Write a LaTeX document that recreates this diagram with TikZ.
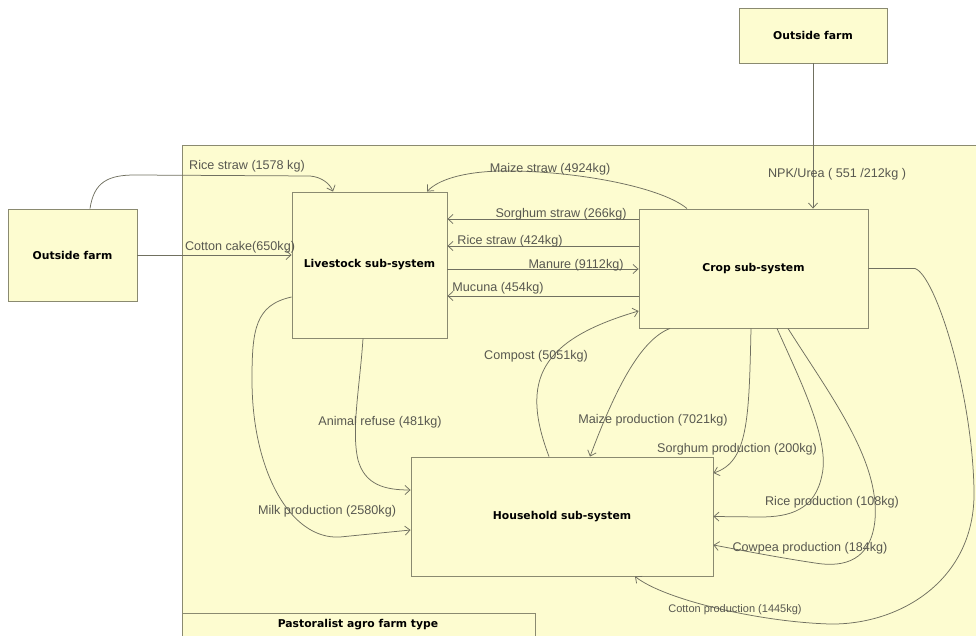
\documentclass[tikz,border=0pt]{standalone}
\usepackage{fontspec}
\setmainfont{Liberation Sans}
\newfontfamily\headfont{DejaVu Sans}
\usetikzlibrary{arrows.meta}
\definecolor{boxfill}{RGB}{253,252,208}
\definecolor{boxline}{RGB}{138,138,112}
\definecolor{flowline}{RGB}{112,112,96}
\definecolor{labelgray}{RGB}{88,88,80}
\begin{document}
\begin{tikzpicture}[x=1pt,y=-1pt,
  sysbox/.style={draw=boxline,fill=boxfill,line width=0.9pt,inner sep=0pt,
    font=\headfont\bfseries\fontsize{10.8}{12}\selectfont},
  flow/.style={draw=flowline,line width=0.75pt,
    -{Straight Barb[length=5pt,width=9pt,line width=0.75pt]}},
  flowlabel/.style={text=labelgray,inner sep=0pt,
    font=\fontsize{12.6}{14}\selectfont},
  smalllabel/.style={flowlabel,font=\fontsize{11}{13}\selectfont}]
\useasboundingbox (0,0) rectangle (976,636);
\begin{scope}
\clip (0,0) rectangle (976,636);
% farm boundary
\path[draw=boxline,fill=boxfill,line width=0.9pt] (182,145) rectangle (990,650);
% sub-systems and outside sources
\node[sysbox,minimum width=148,minimum height=55] (topout) at (813,35.5) {Outside farm};
\node[sysbox,minimum width=129,minimum height=92] (leftout) at (72.5,255) {Outside farm};
\node[sysbox,minimum width=155,minimum height=146] (live) at (369.5,265) {Livestock sub-system};
\node[sysbox,minimum width=229,minimum height=119] (crop) at (753.5,268.5) {Crop sub-system};
\node[sysbox,minimum width=302,minimum height=119] (house) at (562,516.5) {Household sub-system};
\node[sysbox,minimum width=353,minimum height=37,anchor=north west] (ftype) at (182,613) {};
\node[font=\headfont\bfseries\fontsize{10.8}{12}\selectfont,inner sep=0pt] (ftypelabel) at (358,624.5) {Pastoralist agro farm type};

% flows from outside the farm
\draw[flow] ([xshift=17.5pt]leftout.north) .. controls (94,182) and (108,175) .. (135,175)
  -- (310,176) .. controls (322,177) and (330,184) .. ([xshift=-36.5pt]live.north);
\draw[flow] (leftout.east) -- (live.west |- leftout.east);
\draw[flow] (topout.south) -- (topout.south |- crop.north);

% exchanges between crop and livestock
\draw[flow] ([xshift=-66.5pt]crop.north) .. controls (660,186) and (570,170) .. (500,171)
  .. controls (462,172) and (438,180) .. ([xshift=57.5pt]live.north);
\draw[flow] ([yshift=49.5pt]crop.west) -- ([yshift=46pt]live.east);
\draw[flow] ([yshift=22.5pt]crop.west) -- ([yshift=19pt]live.east);
\draw[flow] ([yshift=-4pt]live.east) -- ([yshift=-0.5pt]crop.west);
\draw[flow] ([yshift=-27.5pt]crop.west) -- ([yshift=-31pt]live.east);

% livestock and household
\draw[flow] ([xshift=-6.5pt]live.south) .. controls (360,385) and (351,430) .. (358,460)
  .. controls (365,485) and (385,490) .. ([yshift=26.5pt]house.west);
\draw[flow] ([yshift=-32pt]live.west) .. controls (255,305) and (252,330) .. (252,380)
  .. controls (252,470) and (290,540) .. (340,537) -- ([yshift=-13.5pt]house.west);

% household and crop
\draw[flow] ([xshift=-13pt]house.north) .. controls (520,380) and (540,340) .. ([yshift=-42.5pt]crop.west);
\draw[flow] ([xshift=-83.5pt]crop.south) .. controls (640,340) and (615,390) .. ([xshift=28pt]house.north);
\draw[flow] ([xshift=-2.5pt]crop.south) .. controls (749,420) and (748,462) .. ([yshift=43.5pt]house.east);
\draw[flow] ([xshift=23.5pt]crop.south) .. controls (800,380) and (830,440) .. (822,475)
  .. controls (815,510) and (790,517) .. (760,517) -- (house.east);
\draw[flow] ([xshift=34.5pt]crop.south) .. controls (830,395) and (880,460) .. (875,520)
  .. controls (871,560) and (845,568) .. (815,563)
  .. controls (775,557) and (740,550) .. ([yshift=-28.5pt]house.east);
\draw[flow] (crop.east) -- (915,268.5) .. controls (935,275) and (972,390) .. (974,490)
  .. controls (976,580) and (900,625) .. (830,624) .. controls (760,622) and (665,600) ..
  ([xshift=73pt]house.south);

% flow labels
\node[flowlabel] (l1) at (247,166) {Rice straw (1578 kg)};
\node[flowlabel] (l2) at (240,247) {Cotton cake(650kg)};
\node[flowlabel] (l3) at (837,174) {NPK/Urea ( 551 /212kg )};
\node[flowlabel] (l4) at (550,169) {Maize straw (4924kg)};
\node[flowlabel] (l5) at (561,214) {Sorghum straw (266kg)};
\node[flowlabel] (l6) at (510,241) {Rice straw (424kg)};
\node[flowlabel] (l7) at (576,265) {Manure (9112kg)};
\node[flowlabel] (l8) at (498,288) {Mucuna (454kg)};
\node[flowlabel] (l9) at (536,356) {Compost (5051kg)};
\node[flowlabel] (l10) at (380,422) {Animal refuse (481kg)};
\node[flowlabel] (l11) at (327,511) {Milk production (2580kg)};
\node[flowlabel] (l12) at (653,420) {Maize production (7021kg)};
\node[flowlabel] (l13) at (737,449) {Sorghum production (200kg)};
\node[flowlabel] (l14) at (832,502) {Rice production (108kg)};
\node[flowlabel] (l15) at (810,548) {Cowpea production (184kg)};
\node[smalllabel] (l16) at (735,610) {Cotton production (1445kg)};
\end{scope}
\end{tikzpicture}
\end{document}
